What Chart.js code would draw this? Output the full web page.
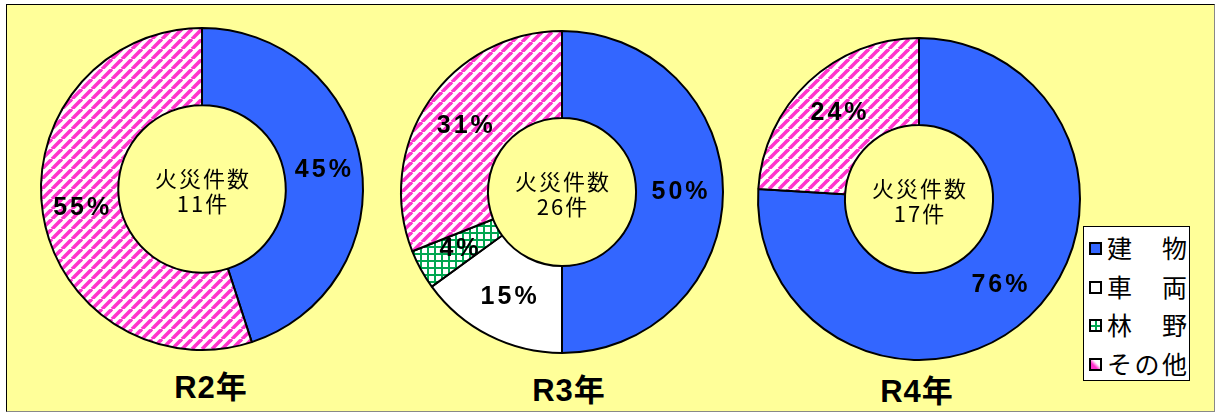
<!DOCTYPE html>
<html>
<head>
<meta charset="utf-8">
<script src="https://cdn.jsdelivr.net/npm/chart.js@4.4.0/dist/chart.umd.min.js"></script>
<style>
  body { margin: 0; background: #fff; }
  #frame { position: absolute; left: 6px; top: 4px; width: 1207px; height: 406px;
           background: #ffff99; border: 1px solid #000; border-right-color: #888; border-bottom-color: #888; }
  canvas { position: absolute; }
  .year { position: absolute; width: 160px; margin-left: -80px; text-align: center;
          font: bold 31px "Liberation Sans", "Noto Sans CJK JP", sans-serif; line-height: 32px; letter-spacing: 1px; }
  #legend { position: absolute; left: 1083px; top: 226px; width: 107px; height: 155px;
            background: #fff; border: 1px solid #000; padding-top: 2px; box-sizing: border-box; }
  .row { position: relative; height: 38.5px; }
  .sw { position: absolute; left: 5px; top: 13px; width: 9px; height: 9px; border: 2px solid #000; }
  .txt { position: absolute; left: 23px; top: 0; width: 80px; display: flex; justify-content: space-between;
         font: 25px "Noto Sans CJK JP", sans-serif; line-height: 36px; }
</style>
</head>
<body>
<div id="frame"></div>
<canvas id="c0" width="340" height="340"></canvas>
<canvas id="c1" width="340" height="340"></canvas>
<canvas id="c2" width="340" height="340"></canvas>
<div id="legend"></div>
<script>
// データ
const years = ['R2年', 'R3年', 'R4年'];
const totals = [11, 26, 17];
const categories = ['建物', '車両', '林野', 'その他'];
const r2Values = [45, 0, 0, 55];
const r3Values = [50, 15, 4, 31];
const r4Values = [76, 0, 0, 24];

// 配置
const centers = [[202, 189], [562, 192], [919, 199]];
const cutouts = ['52%', '46%', '46%'];
const yearPos = [[211, 388], [569, 391], [917, 392]];

const BLUE = '#3366ff';
const PINK = '#ff33cc';
const GREEN = '#00a650';

function stripePattern() {
    const n = 10;
    const c = document.createElement('canvas');
    c.width = c.height = n;
    const g = c.getContext('2d');
    g.fillStyle = '#fff';
    g.fillRect(0, 0, n, n);
    g.strokeStyle = PINK;
    g.lineWidth = 3.6;
    for (const o of [-n, 0, n]) {
        g.beginPath();
        g.moveTo(o, n);
        g.lineTo(o + n, 0);
        g.stroke();
    }
    return g.createPattern(c, 'repeat');
}

function gridPattern() {
    const c = document.createElement('canvas');
    c.width = c.height = 7;
    const g = c.getContext('2d');
    g.fillStyle = '#fff';
    g.fillRect(0, 0, 7, 7);
    g.fillStyle = GREEN;
    g.fillRect(0, 0, 7, 2);
    g.fillRect(0, 0, 2, 7);
    return g.createPattern(c, 'repeat');
}

// パーセント表示
const pctLabels = {
    id: 'pctLabels',
    afterDatasetsDraw(chart) {
        const ctx = chart.ctx;
        const vals = chart.data.datasets[0].data;
        ctx.save();
        ctx.font = 'bold 25px "Liberation Sans", Arial, sans-serif';
        ctx.letterSpacing = '3px';
        ctx.fillStyle = '#000';
        ctx.textAlign = 'center';
        ctx.textBaseline = 'middle';
        chart.getDatasetMeta(0).data.forEach((arc, i) => {
            if (!vals[i]) return;
            const p = arc.tooltipPosition();
            ctx.fillText(vals[i] + '%', p.x + 1.5, p.y);
        });
        ctx.restore();
    }
};

// 中央の件数
const centerText = {
    id: 'centerText',
    afterDatasetsDraw(chart, args, opts) {
        const ctx = chart.ctx;
        const arc = chart.getDatasetMeta(0).data[0];
        ctx.save();
        ctx.font = '22px "Noto Sans CJK JP", sans-serif';
        ctx.letterSpacing = '2px';
        ctx.fillStyle = '#000';
        ctx.textAlign = 'center';
        ctx.textBaseline = 'middle';
        ctx.fillText(opts.lines[0], arc.x + 1, arc.y - 10);
        ctx.fillText(opts.lines[1], arc.x + 1, arc.y + 15);
        ctx.restore();
    }
};

const stripes = stripePattern();
const grid = gridPattern();
const allValues = [r2Values, r3Values, r4Values];

allValues.forEach((values, k) => {
    const cv = document.getElementById('c' + k);
    cv.style.left = (centers[k][0] - 170) + 'px';
    cv.style.top = (centers[k][1] - 170) + 'px';
    new Chart(cv, {
        type: 'doughnut',
        data: {
            labels: categories,
            datasets: [{
                data: values,
                backgroundColor: [BLUE, '#ffffff', grid, stripes],
                borderColor: '#000',
                borderWidth: 2
            }]
        },
        options: {
            responsive: false,
            animation: false,
            events: [],
            radius: 161,
            cutout: cutouts[k],
            plugins: {
                legend: { display: false },
                tooltip: { enabled: false },
                centerText: { lines: ['火災件数', totals[k] + '件'] }
            }
        },
        plugins: [pctLabels, centerText]
    });

    const yl = document.createElement('div');
    yl.className = 'year';
    yl.textContent = years[k];
    yl.style.left = yearPos[k][0] + 'px';
    yl.style.top = (yearPos[k][1] - 16) + 'px';
    document.body.appendChild(yl);
});

// 凡例
const swatchBg = [
    BLUE,
    '#fff',
    `linear-gradient(${GREEN},${GREEN}) center/2px 100% no-repeat, linear-gradient(${GREEN},${GREEN}) center/100% 2px no-repeat, #fff`,
    `linear-gradient(45deg, ${PINK} 35%, #fff 65%)`
];
const legend = document.getElementById('legend');
categories.forEach((name, i) => {
    const row = document.createElement('div');
    row.className = 'row';
    const sw = document.createElement('span');
    sw.className = 'sw';
    sw.style.background = swatchBg[i];
    const txt = document.createElement('span');
    txt.className = 'txt';
    for (const ch of name) {
        const s = document.createElement('span');
        s.textContent = ch;
        txt.appendChild(s);
    }
    row.appendChild(sw);
    row.appendChild(txt);
    legend.appendChild(row);
});
</script>
</body>
</html>
